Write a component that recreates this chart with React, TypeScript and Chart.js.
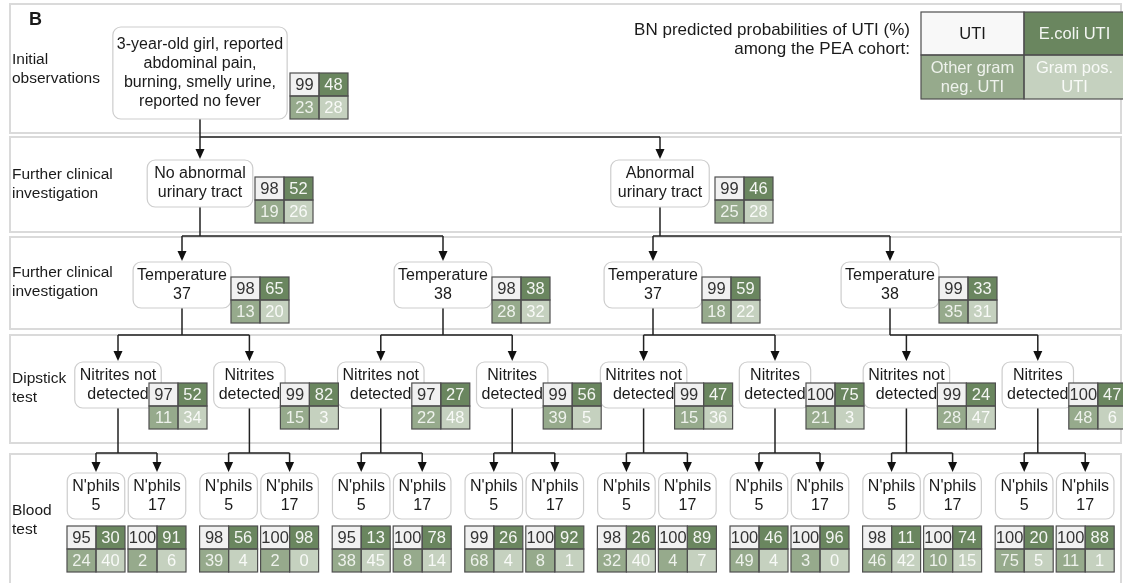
import React, { useEffect, useRef } from "react";
import { Chart, registerables } from "chart.js";

Chart.register(...registerables);

// ---------------- DATA ----------------
const panelLetter = "B";

const rowLabels: string[][] = [
  ["Initial", "observations"],
  ["Further clinical", "investigation"],
  ["Further clinical", "investigation"],
  ["Dipstick", "test"],
  ["Blood", "test"],
];

// tree nodes, breadth-first; "|" separates text lines
const nodeLabels: string[] = [
  "3-year-old girl, reported|abdominal pain,|burning, smelly urine,|reported no fever",
  "No abnormal|urinary tract",
  "Abnormal|urinary tract",
  "Temperature|37",
  "Temperature|38",
  "Temperature|37",
  "Temperature|38",
  "Nitrites not|detected",
  "Nitrites|detected",
  "Nitrites not|detected",
  "Nitrites|detected",
  "Nitrites not|detected",
  "Nitrites|detected",
  "Nitrites not|detected",
  "Nitrites|detected",
  "N'phils|5", "N'phils|17",
  "N'phils|5", "N'phils|17",
  "N'phils|5", "N'phils|17",
  "N'phils|5", "N'phils|17",
  "N'phils|5", "N'phils|17",
  "N'phils|5", "N'phils|17",
  "N'phils|5", "N'phils|17",
  "N'phils|5", "N'phils|17",
];

const nodeParent: number[] = [
  -1, 0, 0, 1, 1, 2, 2, 3, 3, 4, 4, 5, 5, 6, 6,
  7, 7, 8, 8, 9, 9, 10, 10, 11, 11, 12, 12, 13, 13, 14, 14,
];

// BN predicted probabilities (%)
const probUTI: number[] = [
  99, 98, 99, 98, 98, 99, 99, 97, 99, 97, 99, 99, 100, 99, 100,
  95, 100, 98, 100, 95, 100, 99, 100, 98, 100, 100, 100, 98, 100, 100, 100,
];
const probEcoli: number[] = [
  48, 52, 46, 65, 38, 59, 33, 52, 82, 27, 56, 47, 75, 24, 47,
  30, 91, 56, 98, 13, 78, 26, 92, 26, 89, 46, 96, 11, 74, 20, 88,
];
const probOtherGramNeg: number[] = [
  23, 19, 25, 13, 28, 18, 35, 11, 15, 22, 39, 15, 21, 28, 48,
  24, 2, 39, 2, 38, 8, 68, 8, 32, 4, 49, 3, 46, 10, 75, 11,
];
const probGramPos: number[] = [
  28, 26, 28, 20, 32, 22, 31, 34, 3, 48, 5, 36, 3, 47, 6,
  40, 6, 4, 0, 45, 14, 4, 1, 40, 7, 4, 0, 42, 15, 5, 1,
];

const legendTitle: string[] = ["BN predicted probabilities of UTI (%)", "among the PEA cohort:"];
const legendLabels: string[][] = [["UTI"], ["E.coli UTI"], ["Other gram", "neg. UTI"], ["Gram pos.", "UTI"]];

// ---------------- LAYOUT / STYLE ----------------
const W = 1123;
const H = 583;
const FONT = '"Liberation Sans", Arial, Helvetica, sans-serif';
const CELL_FILL = ["#f1f1f1", "#6a865f", "#96aa8c", "#c5d1bf"];
const CELL_TEXT = ["#333333", "#f4f6f3", "#eef2ec", "#f8faf7"];

const levelOf = (i: number) => (i === 0 ? 0 : i < 3 ? 1 : i < 7 ? 2 : i < 15 ? 3 : 4);
const upperColumns: number[][] = [[200], [200, 660], [182, 443, 653, 890]];
const levelStart = [0, 1, 3, 7, 15];
function nodeColumn(i: number): number {
  const lv = levelOf(i);
  const k = i - levelStart[lv];
  if (lv < 3) return upperColumns[lv][k];
  if (lv === 3) return 118 + 131.4 * k;
  return 96 + 132.6 * Math.floor(k / 2) + 61 * (k % 2);
}
const nodeTop = [27, 160, 262, 362, 473];
const nodeH = [92, 47, 46, 46, 46];
const nodePad = [4, 7, 4, 5, 5];
const probTop = [73, 177, 277, 383, 526];
const probDx = [90, 55, 49, 31, 0];
const connY = [137, 236, 335, 453];
const bands = [
  [4, 133],
  [137, 232],
  [237, 329],
  [335, 443],
  [454, 600],
];

function rr(ctx: CanvasRenderingContext2D, x: number, y: number, w: number, h: number, r: number) {
  ctx.beginPath();
  ctx.moveTo(x + r, y);
  ctx.arcTo(x + w, y, x + w, y + h, r);
  ctx.arcTo(x + w, y + h, x, y + h, r);
  ctx.arcTo(x, y + h, x, y, r);
  ctx.arcTo(x, y, x + w, y, r);
  ctx.closePath();
}

const diagramPlugin = {
  id: "diagram",
  afterDraw(chart: any) {
    const ctx: CanvasRenderingContext2D = chart.ctx;
    const xs = chart.scales.x;
    const ys = chart.scales.y;
    const X = (v: number) => xs.getPixelForValue(v);
    const Y = (v: number) => ys.getPixelForValue(v);
    const meta = chart.getDatasetMeta(0);
    ctx.save();

    // bands
    ctx.strokeStyle = "#dadada";
    ctx.lineWidth = 2;
    bands.forEach(([t, b]) => {
      ctx.strokeRect(X(10), Y(t), X(1121) - X(10), Y(b) - Y(t));
    });

    // row labels
    ctx.fillStyle = "#1a1a1a";
    ctx.font = `15.5px ${FONT}`;
    ctx.textAlign = "left";
    ctx.textBaseline = "middle";
    const labelMid = [69, 184.5, 282.5, 388.5, 520.5];
    rowLabels.forEach((lines, r) => {
      lines.forEach((l, j) => ctx.fillText(l, X(12), Y(labelMid[r] + (j - (lines.length - 1) / 2) * 19)));
    });

    // panel letter
    ctx.font = `bold 18px ${FONT}`;
    ctx.fillText(panelLetter, X(29), Y(20));

    // node geometry
    ctx.font = `16px ${FONT}`;
    const geo = nodeLabels.map((lab, i) => {
      const lv = levelOf(i);
      const lines = lab.split("|");
      const tw = Math.max(...lines.map((l) => ctx.measureText(l).width));
      const cx = meta.data[i].x;
      const w = tw + 2 * nodePad[lv];
      const top = Y(nodeTop[lv]);
      const h = Y(nodeTop[lv] + nodeH[lv]) - top;
      return { lv, lines, cx, w, top, h };
    });

    // connectors
    ctx.strokeStyle = "#222";
    ctx.fillStyle = "#111";
    ctx.lineWidth = 1.5;
    nodeLabels.forEach((_, p) => {
      const kids = nodeParent.map((q, i) => (q === p ? i : -1)).filter((i) => i >= 0);
      if (!kids.length) return;
      const g = geo[p];
      const ym = Y(connY[g.lv]);
      const kx = kids.map((k) => geo[k].cx);
      ctx.beginPath();
      ctx.moveTo(g.cx, g.top + g.h);
      ctx.lineTo(g.cx, ym);
      ctx.moveTo(Math.min(g.cx, ...kx), ym);
      ctx.lineTo(Math.max(g.cx, ...kx), ym);
      kids.forEach((k) => {
        ctx.moveTo(geo[k].cx, ym);
        ctx.lineTo(geo[k].cx, geo[k].top - 9);
      });
      ctx.stroke();
      kids.forEach((k) => {
        const t = geo[k].top - 1;
        ctx.beginPath();
        ctx.moveTo(geo[k].cx, t);
        ctx.lineTo(geo[k].cx - 4.5, t - 10);
        ctx.lineTo(geo[k].cx + 4.5, t - 10);
        ctx.closePath();
        ctx.fill();
      });
    });

    // nodes
    geo.forEach((g) => {
      rr(ctx, g.cx - g.w / 2, g.top, g.w, g.h, 8);
      ctx.fillStyle = "#ffffff";
      ctx.fill();
      ctx.strokeStyle = "#cdcdcd";
      ctx.lineWidth = 1.2;
      ctx.stroke();
      ctx.fillStyle = "#1a1a1a";
      ctx.font = `16px ${FONT}`;
      ctx.textAlign = "center";
      ctx.textBaseline = "middle";
      const mid = g.top + g.h / 2;
      g.lines.forEach((l, j) => ctx.fillText(l, g.cx, mid + (j - (g.lines.length - 1) / 2) * 19));
    });

    // probability boxes
    geo.forEach((g, i) => {
      const vals = [probUTI[i], probEcoli[i], probOtherGramNeg[i], probGramPos[i]];
      const cw = 29;
      const ch = 23;
      const left = g.lv === 4 ? g.cx - cw : g.cx + probDx[g.lv];
      const top = Y(probTop[g.lv]);
      ctx.font = `16.5px ${FONT}`;
      ctx.textAlign = "center";
      ctx.textBaseline = "middle";
      vals.forEach((v, c) => {
        const x0 = left + (c % 2) * cw;
        const y0 = top + Math.floor(c / 2) * ch;
        ctx.fillStyle = CELL_FILL[c];
        ctx.fillRect(x0, y0, cw, ch);
        ctx.fillStyle = CELL_TEXT[c];
        ctx.fillText(String(v), x0 + cw / 2, y0 + ch / 2 + 1);
      });
      ctx.strokeStyle = "#4f4f4f";
      ctx.lineWidth = 1.2;
      for (let c = 0; c < 4; c++) {
        ctx.strokeRect(left + (c % 2) * cw, top + Math.floor(c / 2) * ch, cw, ch);
      }
    });

    // legend
    ctx.fillStyle = "#1a1a1a";
    ctx.font = `17px ${FONT}`;
    ctx.textAlign = "right";
    ctx.textBaseline = "middle";
    legendTitle.forEach((t, j) => ctx.fillText(t, X(910), Y(30 + j * 19)));
    const lx = [X(921), X(1024), X(1125)];
    const ly = [Y(12), Y(55), Y(99)];
    ctx.font = `16.5px ${FONT}`;
    legendLabels.forEach((lines, c) => {
      const col = c % 2;
      const row = Math.floor(c / 2);
      const x0 = lx[col];
      const y0 = ly[row];
      const w = lx[col + 1] - x0;
      const h = ly[row + 1] - y0;
      ctx.fillStyle = c === 0 ? "#f8f8f8" : CELL_FILL[c];
      ctx.fillRect(x0, y0, w, h);
      ctx.fillStyle = c === 0 ? "#1a1a1a" : CELL_TEXT[c];
      ctx.textAlign = "center";
      lines.forEach((l, j) => ctx.fillText(l, x0 + w / 2, y0 + h / 2 + 1 + (j - (lines.length - 1) / 2) * 19));
    });
    ctx.strokeStyle = "#4f4f4f";
    ctx.lineWidth = 1.2;
    legendLabels.forEach((_, c) => {
      const col = c % 2;
      const row = Math.floor(c / 2);
      ctx.strokeRect(lx[col], ly[row], lx[col + 1] - lx[col], ly[row + 1] - ly[row]);
    });

    ctx.restore();
  },
};

export default function App() {
  const ref = useRef<HTMLCanvasElement | null>(null);
  useEffect(() => {
    document.body.style.margin = "0";
    document.body.style.background = "#ffffff";
    if (!ref.current) return;
    const points = nodeLabels.map((_, i) => {
      const lv = levelOf(i);
      return { x: nodeColumn(i), y: nodeTop[lv] + nodeH[lv] / 2 };
    });
    const chart = new Chart(ref.current, {
      type: "scatter",
      data: {
        datasets: [
          {
            label: "nodes",
            data: points,
            pointRadius: 0,
            pointHoverRadius: 0,
            showLine: false,
          },
        ],
      },
      options: {
        animation: false,
        responsive: false,
        devicePixelRatio: 1,
        events: [],
        layout: { padding: 0, autoPadding: false },
        plugins: { legend: { display: false }, tooltip: { enabled: false }, title: { display: false } },
        scales: {
          x: { type: "linear", min: 0, max: W, display: false },
          y: { type: "linear", min: 0, max: H, reverse: true, display: false },
        },
      },
      plugins: [diagramPlugin],
    });
    return () => chart.destroy();
  }, []);
  return (
    <div style={{ width: W, height: H, background: "#fff" }}>
      <canvas ref={ref} width={W} height={H} style={{ display: "block", width: W, height: H }} />
    </div>
  );
}
